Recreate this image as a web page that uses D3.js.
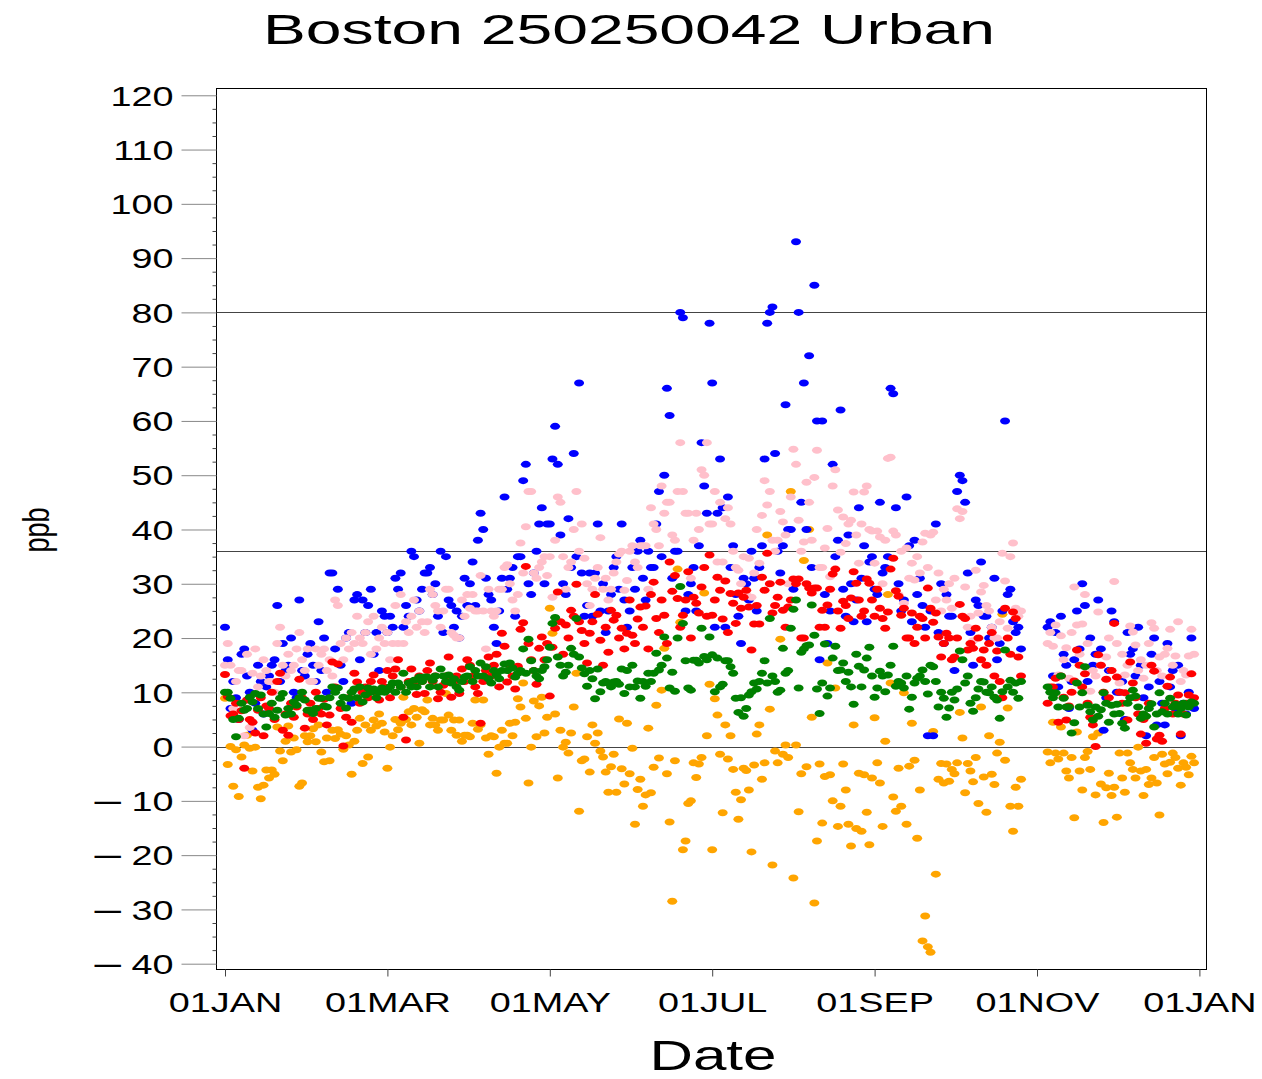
<!DOCTYPE html>
<html>
<head>
<meta charset="utf-8">
<script src="https://cdn.jsdelivr.net/npm/d3@7"></script>
<style>
body { margin: 0; background: #fff; }
svg { display: block; font-family: "Liberation Sans", Arial, Helvetica, sans-serif; }
</style>
</head>
<body>
<div id="chart"></div>
<script>
// daily values, one row per month; monthStart = day of month of the first value in each row
var year = 2013;
var monthStart = [1, 1, 1, 1, 1, 1, 1, 1, 1, 1, 5, 1];

var blue = [
  [22,16,7,12,9,5,17,18,13,10,3,8,15,12,6,11,13,15,16,26,12,19,14,15,20,10,9,27,14,13,17],
  [19,15,12,23,14,20,10,32,32,18,29,15,12,20,21,8,27,28,16,27,21,26,29,17,21,14,25,24],
  [21,24,22,31,29,32,22,26,24,36,35,27,25,29,32,32,33,28,30,24,36,21,35,27,26,22,25,20,24,31,26],
  [30,34,26,38,43,40,31,28,27,22,19,25,31,46,29,31,33,24,35,35,49,52,30,28,32,36,41,44,30,41],
  [41,53,59,52,39,30,28,42,33,54,35,67,32,24,26,32,24,32,41,25,30,21,25,28,33,35,29,41,27,22,25],
  [33,29,36,38,31,27,36,33,33,41,47,35,50,66,61,31,36,36,80,79,25,28,30,33,25,37,56,48,43,78],
  [67,22,43,53,44,22,46,33,37,28,24,19,31,30,27,36,31,25,33,37,53,78,80,81,54,36,32,37,63,40,40],
  [29,93,80,45,67,40,72,33,85,60,16,60,28,19,25,52,35,38,62,29,24,39,30,23,27,44,31,37,23,34,35],
  [29,28,45,32,33,35,66,65,44,30,25,27,46,37,23,38,28,31,26,22,2,25,2,41,21,30,19,28,24,24],
  [14,47,50,49,45,32,21,15,27,26,34,24,24,20,22,31,16,19,25,60,28,29,23,21,22,18],
  [22,23,13,21,11,24,17,15,7,12,16,25,18,30,26,12,20,15,17,27,18,3,9,14,25,23],
  [10,10,12,5,21,17,18,13,22,15,9,2,11,17,20,4,12,8,4,19,11,14,7,15,2,8,6,10,20,7]
];

var pink = [
  [15,19,15,7,12,14,14,2,17,3.5,13.5,18,11,13,16,14,12,12,10,19,22,15,13,17,14,15,18,21,16,14,18],
  [12,12,18,15,17,18,14,16,13,27,26,19,16,20,18,21,19,24,20,19,21,23,17,24,18,20,22,19],
  [21,16,19,26,19,28,19,23,21,24,27,22,25,23,21,23,29,28,26,25,22,25,29,29,21,20.5,20,20,27,24,28],
  [25.5,28,25,25,31.5,25,18,29,25,24,25,29,29,33,33.5,30,27,25,28,37.5,32,40.5,47,47,32,31,33,34,35,31.5],
  [35,27.5,38,46,45,35,29,33,34,40,47,36,41,34.7,30,26,29,31,33,38.5,29,31,27,29,32,34,35.5,36,28.8,30.6,36],
  [37,34,33,37,37,37,29,44,41,40,37,48,43,45,45,39,38,47,56,47,43,43,31,38,43,40,51,50,56,41],
  [41,47,34,45,34,42,44,41,36,33,32.5,30,35,28,34.7,27.5,32,40,33.8,42.6,49,44.5,47,38,36,38,43.3,41.4,39,30,46],
  [54.8,52,41.7,36,37.7,48.7,45,38,49.6,54.6,33,33,36.6,40.2,31.3,48,51,43.6,35.8,42.3,37.4,41,41.7,46.9,39,33.8,41,46.9,48,40,39.7],
  [33.8,39.7,38.6,30,38,53.1,53.3,39.7,39,28,36,26.4,36.6,31,33.8,30.7,35,32,37.7,39.3,33,39,39.5,27,32,25,29,27,30,25.5],
  [31,43.8,42,43.3,29.4,22,24,19.5,32.5,24.6,28.5,29.7,26,25,22,20,20,23,35.6,30.5,21.8,35,37.5,25.5,24,25],
  [19,21,18.5,22.4,13.2,20.4,16,18.2,12.6,21,29.4,22.4,17,22.6,28,19,10.2,14,13,24.8,15,10,16.5,20,14,30.4],
  [19,11.7,17,13.2,15,22.2,21.1,18.7,14,16,12.6,15,19,22.8,21.8,14,16.5,13,17,18.1,21.6,15,16.7,23,12,14,13.2,16.7,21.6,17]
];

var red = [
  [13.3,9.2,5.7,6,8,5,6.6,-4,8.6,5,4.5,2.5,6.7,9,2,7.5,7,10,5,12,13.5,3,6,2.1,8,5.4,7.3,12.4,9,3.4,6],
  [8,5,10,7,6,8.7,4,5.8,15.6,11,15.2,7,0.1,5.4,9,4.5,13.5,11.9,8,10,11,9,12,13.2,10,8.6,12,11],
  [14,9,13,14.3,16,11,5.4,1.2,12,14.3,11.3,9.6,13,12,9.8,14,15.4,12,13,8.8,10,11.3,13,16.5,9.1,12,13,9.8,14.3,12,16],
  [15,13,11,9.8,4.3,12,14,16.5,13,15,17,11,20.9,18.5,11.9,15,13,10.6,14.8,21.6,22.8,33.2,19,16,14,11.5,18.1,20.2,16,19],
  [9.3,18.3,21.8,28.5,23,17,22.4,20,25.1,24,29.9,23,21.4,19,15.4,20.9,23,28,24.4,19.6,15,22,17.4,25.1,23.3,24.2,20,21.8,18,20.9,27],
  [20.5,19,23.5,25.7,22,25.9,18,28,30.3,23.6,21,27,24.2,19,34,28.6,31.5,27.3,22,24.2,27,32.2,20,27.5,26.4,24.6,29.4,33,24,35.3],
  [24.2,27,31.2,28.8,23.5,30.5,21,28.2,26.4,22.7,28.3,25.5,27.5,28.8,25.7,17.8,22.6,26,22.6,31.2,28.8,35.6,30,24.6,26,27.5,30.3,25.1,22,25.7,27],
  [30.9,30,30.9,20,20,30,29.2,28.3,29.2,29.2,22,25.1,22,26.1,29,31.8,32.7,25,21.8,26.8,26,23.6,27.4,32.2,30.1,27,24,25,30.9,30.1,27],
  [24,29,25.5,23.6,21.8,24.8,32.7,34.7,28.7,27.7,24.2,25.5,20,20,24.6,19,22,24,23.6,20,29.2,25.5,22.9,24.6,20.2,16.5,19,20.9,20,16],
  [16.5,20,26.2,24,23.6,17.8,19,18.1,21.8,20,16,17.8,15,19,21,13,17.6,12,9,25.5,20,17,24.8,23.6,16.5,13],
  [8,11,11,12.6,4.5,13,9.1,4.9,7.5,10,12.1,17.8,15,11,13.4,8,5.4,4,0,16.9,15,10,12.4,9,14,22.7],
  [12.8,10,8,9.9,4.9,15.6,11.7,9,6,2.3,5,0.6,8,15,13.9,1.4,2.1,1,7,11.1,12.8,6,8,9.5,2.3,6,8,9.5,13.4,9]
];

var green = [
  [10,10,8.9,5,1.8,5.2,8,6.7,7,9.1,8.2,9.8,7,9.5,6,3.6,6.1,8,5.4,6.7,8.9,9.8,5.8,7,6,8.2,7.6,9,10,8.6,6.7],
  [6.7,6.1,7,8.9,8.9,7.5,7.3,9,11,10,10.8,8,9.1,7.1,8.9,10,10.6,9,11,8.2,9.5,10.8,10,10.6,9,10,10.8,10],
  [10.4,11,11.7,10,11.7,11,13.5,10,11.7,11,12.2,11,12.8,12,12.8,12.8,11,12.2,13,11,14.3,13,12,13.2,11.7,12.5,11,10.4,12,12.8,13],
  [14.7,12,14,13,15.4,13,14.7,12.5,11.7,14,13.2,12.5,14,15.2,14,15.4,14.5,12.8,13.5,14,18,13.5,19.8,15.8,14,13,12.5,14,14.7,16],
  [18.3,22.7,23.8,16.5,15,13,13.7,15,18.1,17,23.6,16.5,14.5,13.4,11.1,14,12.5,8.8,14.3,10.1,11.7,12,11.7,11,11.9,12,11.5,14.3,9.8,14,11],
  [15,11,12.1,8.9,12,11.1,13.5,12,13.5,17.2,14.1,15,20.2,16.3,10.8,13.7,10.2,20,29.5,22.7,15.8,10.8,10.4,15.9,15.9,15.4,21.8,16.6,16,20.2],
  [16.9,10.1,16.3,11,11.5,15.8,15.8,14.7,13.5,8.9,6.3,9,5.6,7,9.5,10.1,11.7,10.6,12,13.5,15.8,11.7,23.6,13,12,10,10.4,18.1,13.5,14,21.8],
  [25.3,27,10.8,17.4,18,18.6,18.7,26.1,20.5,10.6,6.1,11.7,18.9,9.3,10.8,16.3,18.5,14,14.1,15.4,12,13.7,11,7.8,17,14.8,11,14.1,16.3,18.3,13],
  [9.1,10.8,13.9,13,10.1,13.2,15,18.5,11.1,12,11.7,10.8,13,6.9,9.1,11.7,12.6,13,14.1,12,9.7,15,14.7,12,7.3,10,8.9,5.4,7.1,10],
  [8.6,10.6,17.6,16,11.7,13,8,6.5,9,10.6,12,11.9,10,9.9,11,9.1,8.6,5.2,10.1,17.8,11,12.2,10,11.7,8.9,12],
  [11,10,9,9.9,7.3,13,8.9,7.3,7.3,2.5,4.4,11.7,7.3,9.9,14.7,7.6,6.4,4.9,7.3,5.6,6.8,9.9,8,4.5,7.6,6],
  [7.8,6.1,4.3,3.4,8,9,10.4,9.3,7.3,5.2,6,5.6,7,7.9,3.6,6,9.9,6.4,8,6,8.9,7.3,7.8,6,7,8,5.8,7.3,8.2,8]
];

var orange = [
  [8.9,-3.3,0,-7.3,-0.6,-9.2,-1.9,0.3,2.1,-0.3,-4.5,-0.1,-7.5,-9.6,-7.1,-4.3,-5.8,-4.3,-5.1,3.6,-0.8,-2.6,1,3.8,-1,1.6,-0.6,-7.3,-6.7,2,0.9],
  [2,3.3,0.9,4,-1,-2.8,1.6,-2.6,3,1.5,3.1,2.3,-0.5,2,0.3,-5.1,1,3,5.2,-3.1,4,-1.9,3,4.9,3.8,6,4.3,2.7],
  [-4,-0.1,2,5,3.1,4.3,9.1,5,6.4,4,7,5.4,0.6,6.8,6.4,8.6,4,5.2,4,3,4.9,4.9,9.8,5.8,3,4.9,2.1,4.9,1,2.1,2.1],
  [1.8,4.3,8.6,3.2,4,8.6,1.6,-1.4,2,1.8,-4.9,-0.1,3,0.6,0.6,4.3,2,4.5,8.8,7.3,11.7,5.2,-6.7,-0.1,8.4,1.8,7.5,9.1,2.5,5.4],
  [25.5,20.9,6,-5.8,3,-0.1,0.8,-1.2,2.5,7.3,13.5,-11.9,-2.6,-2.3,1.8,-4.7,4,0.6,2.5,-0.8,-1.9,-4.7,-8.4,-3.7,-1.4,-8.4,5.1,-4.1,-6.9,4.3,-5],
  [-0.3,-14.3,-7.9,-6,-11,-8.9,3.4,-8.5,-3.8,7.6,-2.1,10.4,18.1,-5,-13.9,-28.5,-2.6,32.7,22.9,-19,-17.4,-10.5,-10,-3,-5.7,-3.2,-2,28.3,2,11.5],
  [-19,8.8,5.8,-1.4,-12.2,4,-2.3,2,-4.2,-8.4,-13.4,-9.8,-4,-4.4,-8,-19.4,-3.4,2.3,4,-6,-3,39,6.9,-21.8,-0.8,-3,19.8,-1.4,0.3,-2,47],
  [-24.2,0.3,-12,-5,34.3,-3.7,40,5.4,-28.8,-17.4,-3.2,-14.1,-5.5,15.4,-5.2,-10,10.8,-14.7,-11,-3.2,-8,-14.3,-18.3,4,-15.1,-4.9,-15.6,-5.2,-12.1,-18.1,-5.8],
  [5.3,-3,-6.7,-14.7,1,28,11.7,-9.3,-11.9,-4,-11,9.9,-14.3,-3.6,4.3,-2.5,-16.9,-8,-35.8,-31.2,-36.9,-37.9,2.8,-23.5,-6,-3.1,-6.7,-3.2,-6.4,-4.2],
  [-5,-3,6.3,1.6,-8.5,-3.1,-4.5,-6.5,-2,-10.5,7.3,-5.6,-12.1,2,-5.1,-7,-1.2,0.8,24.4,-2.5,7.1,-11,-15.6,-7.5,-11,-6],
  [-1,-3,4.5,-1.2,-2.3,3.6,-1.2,-4.5,-5.8,-2,-13.1,2.7,-4.5,-8,-2,-0.9,-4.2,1.8,-8.9,2.5,-6.9,-14,-7.6,-4.9,-9,-7.5],
  [-13,-1.2,-5.8,-8.4,-1.2,-3,-4.2,-5.8,-0.1,-4.5,-9,-4.2,-7,-5.8,-2,-6.7,-12.6,-1.4,-3.2,-5,-2.9,-1.2,-2,-4,-7.1,-3,-3.8,-5.2,-1.8,-3]
];

var yTicks = d3.range(-40, 121, 10);
var refLines = [80, 36, 0];
var tickMonths = [0, 2, 4, 6, 8, 10, 12];

var W = 1262, H = 1079;
var plot = {left: 216.5, right: 1206.5, top: 88.5, bottom: 969.5};

var svg = d3.select("#chart").append("svg")
    .attr("width", W)
    .attr("height", H);

// x: month ticks are evenly spaced in the original, so use a piecewise time scale
var tickDates = tickMonths.map(function(m) { return new Date(Date.UTC(year, m, 1)); });
var tickX = tickMonths.map(function(m, i) { return 225 + i * 162.4; });
var x = d3.scaleUtc()
    .domain([new Date(+tickDates[0] - 3.1 * 864e5)].concat(tickDates, [new Date(+tickDates[6] + 2.75 * 864e5)]))
    .range([plot.left].concat(tickX, [plot.right]));

var y = d3.scaleLinear()
    .domain([-41.07, 121.25])
    .range([plot.bottom, plot.top]);

// reference lines
svg.append("g").selectAll("line")
    .data(refLines)
    .join("line")
    .attr("x1", plot.left).attr("x2", plot.right)
    .attr("y1", function(d) { return Math.round(y(d)) + 0.5; })
    .attr("y2", function(d) { return Math.round(y(d)) + 0.5; })
    .attr("stroke", "#444")
    .attr("stroke-width", 1);

// points
var seriesList = [
  {values: orange, color: "#FFA500"},
  {values: blue, color: "#0000FF"},
  {values: pink, color: "#FFC0CB"},
  {values: red, color: "#FF0000"},
  {values: green, color: "#008000"}
];

function toPoints(months) {
  var pts = [];
  months.forEach(function(vals, m) {
    vals.forEach(function(v, i) {
      if (v == null) return;
      pts.push({date: new Date(Date.UTC(year, m, monthStart[m] + i)), value: v});
    });
  });
  return pts;
}

seriesList.forEach(function(s) {
  svg.append("g").selectAll("ellipse")
      .data(toPoints(s.values))
      .join("ellipse")
      .attr("cx", function(d) { return x(d.date); })
      .attr("cy", function(d) { return y(d.value); })
      .attr("rx", 5)
      .attr("ry", 3.5)
      .attr("fill", s.color);
});

// frame
svg.append("rect")
    .attr("x", plot.left).attr("y", plot.top)
    .attr("width", plot.right - plot.left)
    .attr("height", plot.bottom - plot.top)
    .attr("fill", "none")
    .attr("stroke", "#000")
    .attr("stroke-width", 1);

// y axis, major ticks
var yAxis = d3.axisLeft(y)
    .tickValues(yTicks)
    .tickSize(35)
    .tickSizeOuter(0)
    .tickFormat(function(d) { return Math.abs(d); });

var gy = svg.append("g")
    .attr("transform", "translate(" + plot.left + ",0)")
    .call(yAxis);
gy.attr("font-size", null).attr("font-family", null);
gy.select(".domain").remove();
gy.selectAll(".tick line").attr("stroke", "#888");
gy.selectAll(".tick text")
    .attr("x", 0)
    .attr("dy", "0.36em")
    .attr("transform", "translate(-43,0) scale(1.4,1)")
    .attr("font-size", 27)
    .attr("fill", "#000")
    .each(function(d) {
      if (d >= 0) return;
      var t = d3.select(this).text("");
      t.append("tspan").attr("font-size", 34).text("\u2013");
      t.append("tspan").text("\u00a0" + Math.abs(d));
    });

// y axis, minor ticks
var gyMinor = svg.append("g")
    .attr("transform", "translate(" + plot.left + ",0)")
    .call(d3.axisLeft(y)
      .tickValues(d3.range(-40, 121, 2.5).filter(function(v) { return v % 10 !== 0; }))
      .tickSize(4)
      .tickSizeOuter(0)
      .tickFormat(""));
gyMinor.select(".domain").remove();
gyMinor.selectAll(".tick line").attr("stroke", "#444");

// x axis
var xAxis = d3.axisBottom(x)
    .tickValues(tickDates)
    .tickSize(7)
    .tickSizeOuter(0)
    .tickFormat(function(d) { return d3.utcFormat("%d%b")(d).toUpperCase(); });

var gx = svg.append("g")
    .attr("transform", "translate(0," + plot.bottom + ")")
    .call(xAxis);
gx.attr("font-size", null).attr("font-family", null);
gx.select(".domain").remove();
gx.selectAll(".tick line").attr("stroke", "#444");
gx.selectAll(".tick text")
    .attr("y", 0)
    .attr("dy", null)
    .attr("transform", "translate(0,42) scale(1.4,1)")
    .attr("font-size", 27)
    .attr("fill", "#000");

// titles
svg.append("text")
    .attr("x", 263)
    .attr("y", 44)
    .attr("font-size", 43)
    .attr("textLength", 732)
    .attr("lengthAdjust", "spacingAndGlyphs")
    .text("Boston 250250042 Urban");

svg.append("text")
    .attr("transform", "translate(713,1070) scale(1.4,1)")
    .attr("text-anchor", "middle")
    .attr("font-size", 43)
    .text("Date");

svg.append("text")
    .attr("transform", "translate(49,530) scale(1.4,1) rotate(-90)")
    .attr("text-anchor", "middle")
    .attr("font-size", 27)
    .text("ppb");
</script>
</body>
</html>
